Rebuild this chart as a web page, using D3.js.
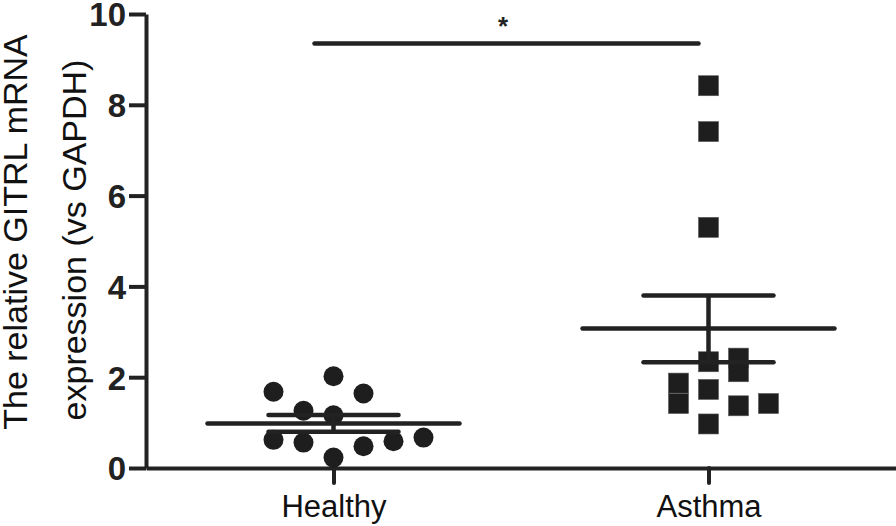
<!DOCTYPE html>
<html><head><meta charset="utf-8">
<script src="https://cdn.jsdelivr.net/npm/d3@7"></script>
<style>body{margin:0;background:#fff;} svg{display:block;font-family:"Liberation Sans",Arial,sans-serif;}</style>
</head><body>
<svg id="c" width="896" height="526"></svg>
<script>
const categories = ["Healthy", "Asthma"];
const healthyValues = [2.02, 1.68, 1.64, 1.26, 1.16, 0.62, 0.56, 0.48, 0.59, 0.67, 0.23];
const healthySlots  = [0, -2, 1, -1, 0, -2, -1, 1, 2, 3, 0];
const asthmaValues  = [8.42, 7.41, 5.30, 2.34, 2.42, 2.12, 1.87, 1.73, 1.42, 1.37, 1.42, 0.97];
const asthmaSlots   = [0, 0, 0, 0, 1, 1, -1, 0, -1, 1, 2, 0];
const meanValues = [0.98, 3.07];
const semUpper = [1.17, 3.80];
const semLower = [0.80, 2.33];
const yTicks = [0, 2, 4, 6, 8, 10];
const yLabelLines = ["The relative GITRL mRNA", "expression (vs GAPDH)"];
const sigLabel = "*";
const sigLevel = 9.35;

const col = "#222";
const svg = d3.select("#c");
const x = d3.scalePoint().domain(categories).range([146, 896]).padding(0.5);
const y = d3.scaleLinear().domain([0, 10]).range([468, 14]);
const slot = d3.scaleLinear().domain([0, 1]).range([0, 30]);

// y axis
const ya = svg.append("g").attr("transform", "translate(146,0)")
  .call(d3.axisLeft(y).tickValues(yTicks).tickSize(17).tickSizeOuter(0).tickPadding(3));
ya.select(".domain").attr("stroke", col).attr("stroke-width", 4);
ya.selectAll(".tick line").attr("stroke", col).attr("stroke-width", 4);
ya.selectAll(".tick text").attr("fill", col).attr("font-size", 33).attr("font-weight", "bold")
  .attr("font-family", "Liberation Sans, Arial, sans-serif").attr("dy", "0.36em");

// x axis
const xa = svg.append("g").attr("transform", "translate(0,468)")
  .call(d3.axisBottom(x).tickSize(15).tickSizeOuter(0).tickPadding(12));
xa.select(".domain").attr("stroke", col).attr("stroke-width", 4);
xa.selectAll(".tick line").attr("stroke", col).attr("stroke-width", 4).attr("stroke-linecap", "round");
xa.selectAll(".tick text").attr("fill", "#111").attr("font-size", 31)
  .attr("font-family", "Liberation Sans, Arial, sans-serif");

// y label
yLabelLines.forEach((t, i) => {
  const cx = [27, 86][i], cy = [232, 240][i];
  svg.append("text").attr("transform", `translate(${cx},${cy}) rotate(-90)`)
    .attr("text-anchor", "middle").attr("font-size", 34).attr("fill", "#111").text(t);
});

// points
const gp = svg.append("g").attr("fill", "#1e1e1e");
gp.selectAll("circle").data(healthyValues).join("circle")
  .attr("cx", (d, i) => x("Healthy") + slot(healthySlots[i]))
  .attr("cy", d => y(d)).attr("r", 10);
gp.selectAll("rect").data(asthmaValues).join("rect")
  .attr("x", (d, i) => x("Asthma") + slot(asthmaSlots[i]) - 10)
  .attr("y", d => y(d) - 10).attr("width", 20).attr("height", 20)
  .attr("stroke", "#555").attr("stroke-width", 0.6);

// mean & SEM
const gl = svg.append("g").attr("stroke", col).attr("stroke-width", 4.5).attr("stroke-linecap", "round");
categories.forEach((c, i) => {
  const cx = x(c);
  gl.append("line").attr("x1", cx - 126).attr("x2", cx + 126).attr("y1", y(meanValues[i])).attr("y2", y(meanValues[i]));
  gl.append("line").attr("x1", cx).attr("x2", cx).attr("y1", y(semUpper[i])).attr("y2", y(semLower[i])).attr("stroke-linecap", "butt");
  [semUpper[i], semLower[i]].forEach(v => {
    gl.append("line").attr("x1", cx - 65).attr("x2", cx + 65).attr("y1", y(v)).attr("y2", y(v));
  });
});

// significance
gl.append("line").attr("x1", x("Healthy") - 19).attr("x2", x("Asthma") - 10)
  .attr("y1", y(sigLevel)).attr("y2", y(sigLevel));
svg.append("text").attr("x", (x("Healthy") + x("Asthma")) / 2 - 18).attr("y", 35)
  .attr("text-anchor", "middle").attr("font-size", 26).attr("font-weight", "bold").attr("fill", col).text(sigLabel);
</script>
</body></html>
